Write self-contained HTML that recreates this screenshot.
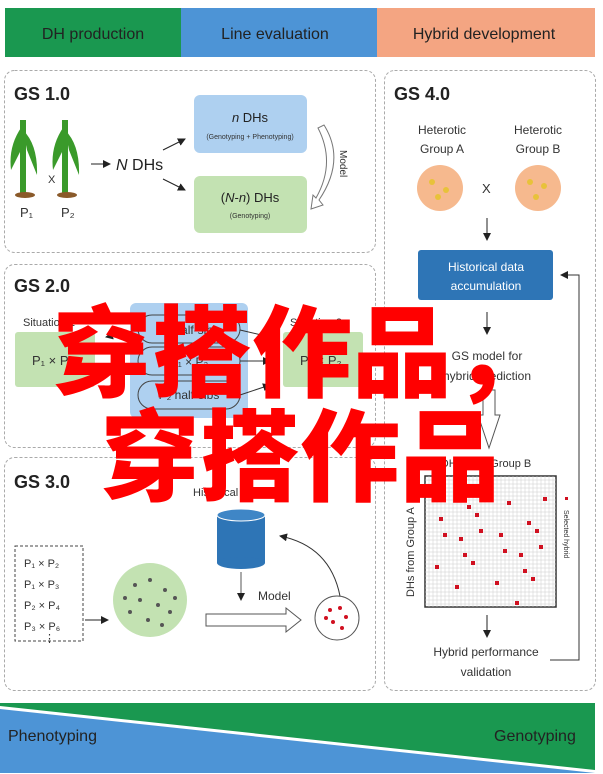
<!DOCTYPE html>
<html><head><meta charset="utf-8"><style>
body{margin:0;width:603px;height:774px;background:#fff;overflow:hidden;position:relative;font-family:"Liberation Sans",sans-serif}
.red{position:absolute;color:#ff0000;font-family:"Noto Sans CJK SC",sans-serif;font-weight:900;font-size:100px;line-height:100px;white-space:nowrap}
</style></head><body>
<svg width="603" height="774" style="position:absolute;left:0;top:0" font-family="Liberation Sans, sans-serif">
<defs><marker id="a" markerWidth="8" markerHeight="8" refX="7" refY="4" orient="auto"><path d="M0,0L8,4L0,8z" fill="#222"/></marker></defs>
<rect x="5" y="8" width="176" height="49" fill="#1a9850"/>
<rect x="181" y="8" width="196" height="49" fill="#4d94d6"/>
<rect x="377" y="8" width="218" height="49" fill="#f4a582"/>
<text x="93" y="39" font-size="16" text-anchor="middle" fill="#222">DH production</text>
<text x="275" y="39" font-size="16" text-anchor="middle" fill="#222">Line evaluation</text>
<text x="484" y="39" font-size="16" text-anchor="middle" fill="#222">Hybrid development</text>
<g fill="none" stroke="#aaa" stroke-dasharray="3,2">
<rect x="4.5" y="70.5" width="371" height="182" rx="10"/>
<rect x="4.5" y="264.5" width="371" height="183" rx="10"/>
<rect x="4.5" y="457.5" width="371" height="233" rx="10"/>
<rect x="384.5" y="70.5" width="211" height="620" rx="10"/>
</g>
<g font-weight="bold" font-size="18" fill="#222">
<text x="14" y="100">GS 1.0</text><text x="14" y="292">GS 2.0</text><text x="14" y="488">GS 3.0</text><text x="394" y="100">GS 4.0</text></g>
<!-- GS1 -->
<g fill="#3a9a2a"><rect x="20" y="120" width="6" height="75"/><rect x="62" y="120" width="6" height="75"/>
<path d="M23,125 q-15,20 -12,45 l10,-20z M23,130 q15,15 14,45 l-10,-25z M65,125 q-15,20 -12,45 l10,-20z M65,130 q15,15 14,45 l-10,-25z"/></g>
<ellipse cx="25" cy="195" rx="10" ry="3" fill="#8a5a2a"/><ellipse cx="67" cy="195" rx="10" ry="3" fill="#8a5a2a"/>
<text x="48" y="183" font-size="11" fill="#333">X</text>
<text x="20" y="217" font-size="13" fill="#333">P₁</text><text x="61" y="217" font-size="13" fill="#333">P₂</text>
<line x1="91" y1="164" x2="110" y2="164" stroke="#222" marker-end="url(#a)"/>
<text x="116" y="170" font-size="16" fill="#222"><tspan font-style="italic">N</tspan> DHs</text>
<line x1="163" y1="150" x2="185" y2="139" stroke="#222" marker-end="url(#a)"/>
<line x1="163" y1="179" x2="185" y2="190" stroke="#222" marker-end="url(#a)"/>
<rect x="194" y="95" width="113" height="58" rx="6" fill="#aed0f0"/>
<text x="250" y="122" font-size="13" text-anchor="middle" fill="#222"><tspan font-style="italic">n</tspan> DHs</text>
<text x="250" y="139" font-size="7" text-anchor="middle" fill="#333">(Genotyping + Phenotyping)</text>
<rect x="194" y="176" width="113" height="57" rx="6" fill="#c3e2b2"/>
<text x="250" y="202" font-size="13" text-anchor="middle" fill="#222">(<tspan font-style="italic">N</tspan>-<tspan font-style="italic">n</tspan>) DHs</text>
<text x="250" y="218" font-size="7" text-anchor="middle" fill="#333">(Genotyping)</text>
<path d="M324,125 q22,35 -5,75 l4,5 l-12,4 l2,-14 l3,3 q20,-35 2,-70z" fill="#fff" stroke="#777"/>
<text x="340" y="150" font-size="10" fill="#333" transform="rotate(90 340 150)">Model</text>
<!-- GS2 -->
<rect x="130" y="303" width="118" height="115" rx="6" fill="#aed0f0"/>
<rect x="15" y="332" width="80" height="55" rx="3" fill="#c3e2b2"/>
<rect x="283" y="332" width="80" height="55" rx="3" fill="#c3e2b2"/>
<text x="23" y="326" font-size="11" fill="#333">Situation 1</text>
<text x="290" y="326" font-size="11" fill="#333">Situation 2</text>
<text x="32" y="365" font-size="13" fill="#333">P₁ × P₂</text>
<text x="300" y="365" font-size="13" fill="#333">P₁ × P₂</text>
<g fill="none" stroke="#444"><rect x="138" y="315" width="102" height="28" rx="14"/><rect x="138" y="347" width="102" height="28" rx="14"/><rect x="138" y="381" width="102" height="28" rx="14"/></g>
<text x="189" y="334" font-size="12" text-anchor="middle" fill="#333">P₁ half-sibs</text>
<text x="189" y="366" font-size="12" text-anchor="middle" fill="#333">P₁ × P₂</text>
<text x="189" y="399" font-size="12" text-anchor="middle" fill="#333">P₂ half-sibs</text>
<g stroke="#333" marker-end="url(#a)"><line x1="138" y1="330" x2="106" y2="337"/><line x1="240" y1="330" x2="270" y2="337"/><line x1="240" y1="361" x2="270" y2="361"/><line x1="240" y1="395" x2="270" y2="385"/></g>
<!-- GS3 -->
<rect x="15" y="546" width="68" height="95" fill="none" stroke="#444" stroke-dasharray="3,2"/>
<g font-size="11" fill="#333"><text x="24" y="567">P₁ × P₂</text><text x="24" y="588">P₁ × P₃</text><text x="24" y="609">P₂ × P₄</text><text x="24" y="630">P₃ × P₆</text><text x="44" y="642">⋮</text></g>
<line x1="85" y1="620" x2="108" y2="620" stroke="#222" marker-end="url(#a)"/>
<circle cx="150" cy="600" r="37" fill="#c3e2b2"/>
<g fill="#555"><circle cx="135" cy="585" r="2"/><circle cx="150" cy="580" r="2"/><circle cx="165" cy="590" r="2"/><circle cx="140" cy="600" r="2"/><circle cx="158" cy="605" r="2"/><circle cx="170" cy="612" r="2"/><circle cx="130" cy="612" r="2"/><circle cx="148" cy="620" r="2"/><circle cx="162" cy="625" r="2"/><circle cx="125" cy="598" r="2"/><circle cx="175" cy="598" r="2"/></g>
<path d="M206,614 h80 v-6 l15,12 l-15,12 v-6 h-80z" fill="#fff" stroke="#555"/>
<text x="193" y="496" font-size="11" fill="#333">Historical data</text>
<rect x="217" y="515" width="48" height="48" fill="#2e75b6"/><ellipse cx="241" cy="515" rx="24" ry="6" fill="#3f86c6" stroke="#fff"/><ellipse cx="241" cy="563" rx="24" ry="6" fill="#2e75b6"/>
<line x1="241" y1="572" x2="241" y2="600" stroke="#555" marker-end="url(#a)"/>
<text x="258" y="600" font-size="12" fill="#333">Model</text>
<circle cx="337" cy="618" r="22" fill="#fff" stroke="#555"/>
<g fill="#d01020"><circle cx="330" cy="610" r="2"/><circle cx="340" cy="608" r="2"/><circle cx="346" cy="617" r="2"/><circle cx="333" cy="622" r="2"/><circle cx="342" cy="628" r="2"/><circle cx="326" cy="618" r="2"/></g>
<path d="M340,596 q-10,-50 -60,-60" fill="none" stroke="#333" marker-end="url(#a)"/>
<!-- GS4 -->
<text x="442" y="134" font-size="12" text-anchor="middle" fill="#333">Heterotic</text><text x="442" y="153" font-size="12" text-anchor="middle" fill="#333">Group A</text>
<text x="538" y="134" font-size="12" text-anchor="middle" fill="#333">Heterotic</text><text x="538" y="153" font-size="12" text-anchor="middle" fill="#333">Group B</text>
<circle cx="440" cy="188" r="23" fill="#f6b98e"/><circle cx="538" cy="188" r="23" fill="#f6b98e"/>
<g fill="#e8c23a"><circle cx="432" cy="182" r="3"/><circle cx="446" cy="190" r="3"/><circle cx="438" cy="197" r="3"/><circle cx="530" cy="182" r="3"/><circle cx="544" cy="186" r="3"/><circle cx="536" cy="197" r="3"/></g>
<text x="482" y="193" font-size="13" fill="#333">X</text>
<line x1="487" y1="218" x2="487" y2="240" stroke="#222" marker-end="url(#a)"/>
<rect x="418" y="250" width="135" height="50" rx="3" fill="#2e75b6"/>
<text x="486" y="271" font-size="12" text-anchor="middle" fill="#fff">Historical data</text>
<text x="486" y="290" font-size="12" text-anchor="middle" fill="#fff">accumulation</text>
<line x1="487" y1="312" x2="487" y2="334" stroke="#222" marker-end="url(#a)"/>
<text x="487" y="360" font-size="12" text-anchor="middle" fill="#333">GS model for</text>
<text x="487" y="380" font-size="12" text-anchor="middle" fill="#333">hybrid prediction</text>
<path d="M483,390 h12 v25 h5 l-11,33 l-11,-33 h5z" fill="#fff" stroke="#555"/>
<text x="486" y="467" font-size="11" text-anchor="middle" fill="#333">DHs from Group B</text>
<text x="414" y="597" font-size="11" fill="#333" transform="rotate(-90 414 597)">DHs from Group A</text>
<rect x="425" y="476" width="131" height="131" fill="#fff" stroke="#333" stroke-width="1.5"/>
<g stroke="#ccc" stroke-width="0.5">
<path d="M429,476v131M433,476v131M437,476v131M441,476v131M445,476v131M449,476v131M453,476v131M457,476v131M461,476v131M465,476v131M469,476v131M473,476v131M477,476v131M481,476v131M485,476v131M489,476v131M493,476v131M497,476v131M501,476v131M505,476v131M509,476v131M513,476v131M517,476v131M521,476v131M525,476v131M529,476v131M533,476v131M537,476v131M541,476v131M545,476v131M549,476v131M553,476v131"/>
<path d="M425,480h131M425,484h131M425,488h131M425,492h131M425,496h131M425,500h131M425,504h131M425,508h131M425,512h131M425,516h131M425,520h131M425,524h131M425,528h131M425,532h131M425,536h131M425,540h131M425,544h131M425,548h131M425,552h131M425,556h131M425,560h131M425,564h131M425,568h131M425,572h131M425,576h131M425,580h131M425,584h131M425,588h131M425,592h131M425,596h131M425,600h131M425,604h131"/></g>
<g fill="#d01020"><rect x="543" y="497" width="4" height="4"/><rect x="507" y="501" width="4" height="4"/><rect x="467" y="505" width="4" height="4"/><rect x="475" y="513" width="4" height="4"/><rect x="439" y="517" width="4" height="4"/><rect x="527" y="521" width="4" height="4"/><rect x="479" y="529" width="4" height="4"/><rect x="535" y="529" width="4" height="4"/><rect x="443" y="533" width="4" height="4"/><rect x="499" y="533" width="4" height="4"/><rect x="459" y="537" width="4" height="4"/><rect x="539" y="545" width="4" height="4"/><rect x="503" y="549" width="4" height="4"/><rect x="463" y="553" width="4" height="4"/><rect x="519" y="553" width="4" height="4"/><rect x="471" y="561" width="4" height="4"/><rect x="435" y="565" width="4" height="4"/><rect x="523" y="569" width="4" height="4"/><rect x="531" y="577" width="4" height="4"/><rect x="495" y="581" width="4" height="4"/><rect x="455" y="585" width="4" height="4"/><rect x="515" y="601" width="4" height="4"/><rect x="565" y="497" width="3" height="3"/></g>
<text x="564" y="510" font-size="7" fill="#333" transform="rotate(90 564 510)">Selected hybrid</text>
<line x1="487" y1="615" x2="487" y2="637" stroke="#222" marker-end="url(#a)"/>
<text x="486" y="656" font-size="12" text-anchor="middle" fill="#333">Hybrid performance</text>
<text x="486" y="676" font-size="12" text-anchor="middle" fill="#333">validation</text>
<path d="M550,660 h29 v-385 h-18" fill="none" stroke="#333" marker-end="url(#a)"/>
<!-- bottom -->
<rect x="0" y="703" width="595" height="70" fill="#1a9850"/>
<polygon points="0,706 595,770 595,773 0,773" fill="#fff"/>
<polygon points="0,709 595,773 0,773" fill="#4d94d6"/>
<text x="8" y="741" font-size="16" fill="#222">Phenotyping</text>
<text x="494" y="741" font-size="16" fill="#222">Genotyping</text>
</svg>
<div class="red" style="left:52px;top:296px">穿搭作品，</div>
<div class="red" style="left:100px;top:400px">穿搭作品</div>
</body></html>
